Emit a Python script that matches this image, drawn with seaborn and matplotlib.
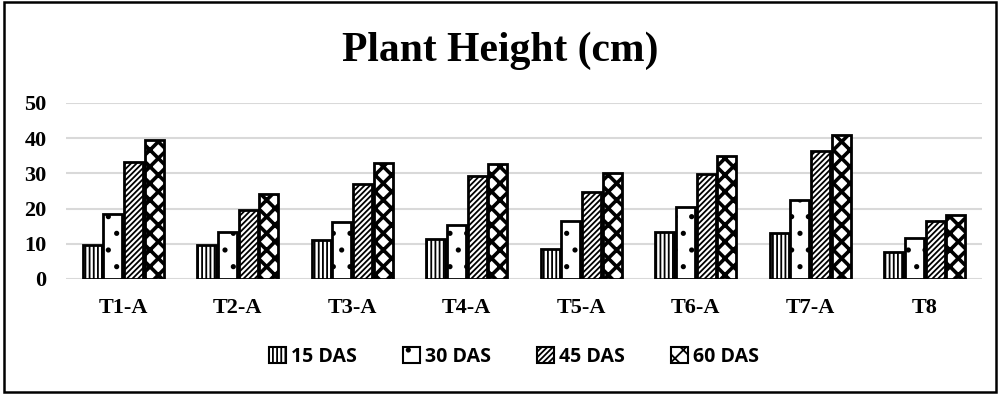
import pandas as pd
import seaborn as sns
import matplotlib.pyplot as plt
from matplotlib.patches import Rectangle

treatments = ['T1-A', 'T2-A', 'T3-A', 'T4-A', 'T5-A', 'T6-A', 'T7-A', 'T8']
das_15 = [9.7, 9.5, 11.0, 11.4, 8.6, 13.4, 13.1, 7.6]
das_30 = [18.5, 13.4, 16.1, 15.4, 16.5, 20.5, 22.3, 11.7]
das_45 = [33.2, 19.6, 27.0, 29.1, 24.7, 29.8, 36.4, 16.5]
das_60 = [39.4, 24.0, 33.0, 32.6, 30.2, 34.9, 40.8, 18.2]
stages = ['15 DAS', '30 DAS', '45 DAS', '60 DAS']
hatches = ['||||', '.', '//////', 'xx']
hatch_lw = [1.3, 1.3, 1.3, 2.6]

rows = []
for stage, vals in zip(stages, [das_15, das_30, das_45, das_60]):
    for t, v in zip(treatments, vals):
        rows.append({'Treatment': t, 'Stage': stage, 'Height': v})
df = pd.DataFrame(rows)

sns.set_style('white')
plt.rcParams['hatch.linewidth'] = 1.3
plt.rcParams['text.color'] = 'black'
plt.rcParams['xtick.color'] = 'black'
plt.rcParams['ytick.color'] = 'black'

fig = plt.figure(figsize=(10, 3.94), dpi=100)
ax = fig.add_axes([0.066, 0.292, 0.916, 0.447])

sns.barplot(data=df, x='Treatment', y='Height', hue='Stage', ax=ax,
            width=0.725, gap=0.08, palette=['white'] * 4,
            edgecolor='black', linewidth=2, legend=False, errorbar=None)

for i, cont in enumerate(ax.containers):
    for bar in cont:
        bar.set_hatch(hatches[i])
        if hasattr(bar, 'set_hatch_linewidth'):
            bar.set_hatch_linewidth(hatch_lw[i])

ax.set_ylim(0, 50)
ax.set_yticks([0, 10, 20, 30, 40, 50])
ax.yaxis.grid(True, color='#d9d9d9', linewidth=1.5)
ax.set_axisbelow(True)
for s in ax.spines.values():
    s.set_visible(False)
ax.set_xlabel('')
ax.set_ylabel('')
ax.tick_params(axis='x', length=0, pad=14)
ax.tick_params(axis='y', length=0, pad=14)
for lab in ax.get_xticklabels() + ax.get_yticklabels():
    lab.set_fontfamily('Liberation Serif')
    lab.set_fontweight('bold')
    lab.set_fontsize(16)
    lab.set_color('black')

fig.text(0.5, 0.87, 'Plant Height (cm)', ha='center', va='center', color='black',
         fontfamily='Liberation Serif', fontweight='bold', fontsize=30)

handles = []
for h, lw in zip(hatches, hatch_lw):
    p = Rectangle((0, 0), 1, 1, facecolor='white', edgecolor='black',
                  linewidth=1.5, hatch=h)
    if hasattr(p, 'set_hatch_linewidth'):
        p.set_hatch_linewidth(lw)
    handles.append(p)
fig.legend(handles, stages, loc='center', bbox_to_anchor=(0.514, 0.095), ncol=4,
           frameon=False, handlelength=0.85, handleheight=0.85, handletextpad=0.25,
           columnspacing=2.4, prop={'family': 'Open Sans', 'weight': 'bold', 'size': 14})

fig.patches.append(Rectangle((0.004, 0.005), 0.992, 0.99, transform=fig.transFigure,
                             fill=False, edgecolor='black', linewidth=1.8))

fig.savefig('out.png', dpi=100)
